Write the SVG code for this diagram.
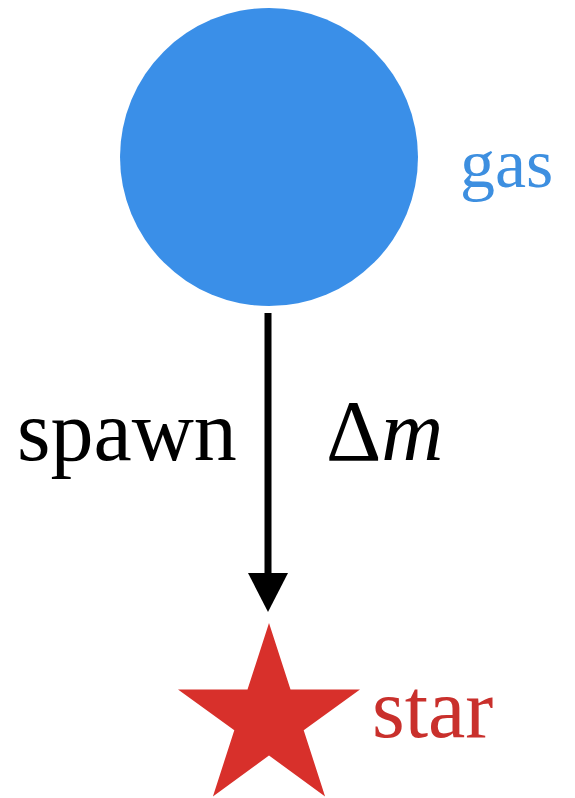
<svg xmlns="http://www.w3.org/2000/svg" width="575" height="798" viewBox="0 0 575 798">
<style>
text{font-family:'Liberation Serif','DejaVu Serif','Times New Roman',Times,serif;}
</style>
<rect width="575" height="798" fill="#fff"/>
<g id="gas">
<circle cx="269" cy="157" r="149" fill="#3a8fe8"/>
<text x="460" y="187" font-size="70" fill="#3d8fe0">gas</text>
</g>
<g id="star">
<polygon fill="#d8302b" points="269,623 290.5,689.5 360,689.5 303.7,730.2 325.1,796.5 269,755.5 212.9,796.5 234.3,730.2 178,689.5 247.5,689.5"/>
<text x="372" y="737" font-size="84" fill="#c9302c">star</text>
</g>
<g id="connectors">
<line x1="268" y1="313" x2="268" y2="574" stroke="#000" stroke-width="7"/>
<polygon points="248,573 288,573 268,612" fill="#000"/>
<text x="17" y="460" font-size="86" fill="#000">spawn</text>
<text x="326" y="460" font-size="86" fill="#000">Δ<tspan font-style="italic">m</tspan></text>
</g>
</svg>
